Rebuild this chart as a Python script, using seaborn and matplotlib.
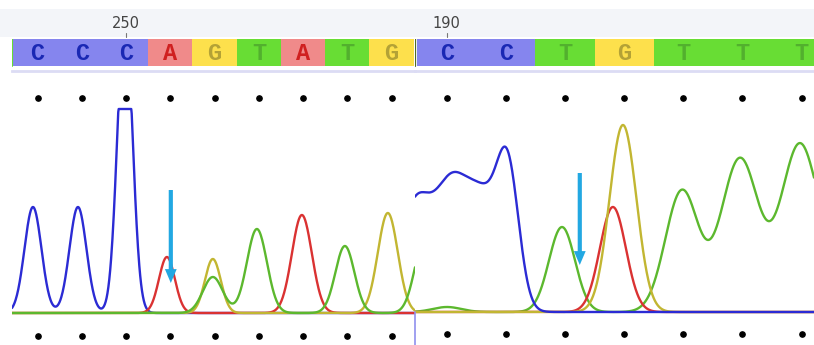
import numpy as np
import pandas as pd
import matplotlib
matplotlib.use("Agg")
import matplotlib.pyplot as plt
from matplotlib.transforms import blended_transform_factory
from matplotlib.patches import Rectangle
import seaborn as sns

# ---------------- data ----------------
left_bases = list("CCCAGTATG")
left_prev_base = "C"          # partly visible call left of the first shown base
right_bases = list("CCTGTTT")
left_label, left_label_idx = "250", 2
right_label, right_label_idx = "190", 0

# peaks: position (base index), height (signal), width (sigma, base units)
left_blue_pos = [-0.106, 0.911, 1.973]
left_blue_h = [1060, 1060, 3000]
left_blue_w = [0.192, 0.192, 0.169]
left_red_pos = [2.922, 5.973]
left_red_h = [560, 980]
left_red_w = [0.18, 0.226]
left_yellow_pos = [3.96, 7.916]
left_yellow_h = [540, 1000]
left_yellow_w = [0.18, 0.226]
left_green_pos = [3.96, 4.956, 6.945, 8.752]
left_green_h = [360, 840, 670, 740]
left_green_w = [0.226, 0.226, 0.215, 0.226]
left_saturation = 2040

right_blue_pos = [-0.536, 0.05, 0.60, 1.04]
right_blue_h = [1050, 1080, 1080, 1230]
right_blue_w = [0.27, 0.27, 0.30, 0.185]
right_red_pos = [2.81]
right_red_h = [1050]
right_red_w = [0.22]
right_yellow_pos = [2.98]
right_yellow_h = [1870]
right_yellow_w = [0.228]
right_green_pos = [0.005, 1.949, 3.977, 4.957, 5.972, 6.99]
right_green_h = [50, 850, 1210, 1530, 1670, 1500]
right_green_w = [0.24, 0.22, 0.28, 0.32, 0.32, 0.32]

# arrows: (base index, top signal, tip signal)
left_arrow = (3.01, 1230, 300)
right_arrow = (2.25, 1390, 470)

# ---------------- styles ----------------
trace_col = {"C": "#2b2bd4", "A": "#da3232", "G": "#c2b632", "T": "#5cb82e"}
bar_col = {"C": "#8585ee", "A": "#f08a8a", "G": "#fde04c", "T": "#68dd34"}
letter_col = {"C": "#1a28b4", "A": "#d02020", "G": "#b4a236", "T": "#52b02e"}
arrow_col = "#22a8e2"

W, H = 814, 345
sns.set_theme(style="white")
plt.rcParams["font.family"] = ["DejaVu Sans"]
fig = plt.figure(figsize=(W / 100, H / 100), dpi=100)
fig.patch.set_facecolor("white")


def rect(x0, y0, x1, y1):
    return [x0 / W, 1 - y1 / H, (x1 - x0) / W, (y1 - y0) / H]


fig.add_artist(Rectangle((0, 1 - 37 / H), 1, 28 / H, transform=fig.transFigure,
                         facecolor="#f3f5f9", edgecolor="none", zorder=-5))

panels = [
    dict(bases=left_bases, prev=left_prev_base, label=left_label,
         label_idx=left_label_idx,
         xlim=(-0.58, 8.53), ylim=(-320, 2410), px=(12, 415),
         peaks={"C": (left_blue_pos, left_blue_h, left_blue_w),
                "A": (left_red_pos, left_red_h, left_red_w),
                "G": (left_yellow_pos, left_yellow_h, left_yellow_w),
                "T": (left_green_pos, left_green_h, left_green_w)},
         order=["C", "A", "G", "T"], sat=left_saturation, arrow=left_arrow,
         dot_bottom=0.033),
    dict(bases=right_bases, prev=None, label=right_label,
         label_idx=right_label_idx,
         xlim=(-0.536, 6.21), ylim=(-330, 2400), px=(415, 814),
         peaks={"C": (right_blue_pos, right_blue_h, right_blue_w),
                "A": (right_red_pos, right_red_h, right_red_w),
                "G": (right_yellow_pos, right_yellow_h, right_yellow_w),
                "T": (right_green_pos, right_green_h, right_green_w)},
         order=["T", "A", "G", "C"], sat=None, arrow=right_arrow,
         dot_bottom=0.040),
]

for i, p in enumerate(panels):
    x0, x1 = p["px"]
    # ---- base-call bar ----
    axb = fig.add_axes(rect(x0, 39, x1, 71))
    axb.set_xlim(*p["xlim"])
    axb.set_ylim(-0.17, 1.0)
    idx = np.arange(len(p["bases"]))
    axb.bar(idx, 1.0, width=1.0, bottom=0,
            color=[bar_col[b] for b in p["bases"]], edgecolor="none")
    if p["prev"] is not None:
        axb.bar([-1], 1.0, width=1.0, bottom=0, color=bar_col[p["prev"]],
                edgecolor="none")
    for j, b in enumerate(p["bases"]):
        axb.text(j, 0.47, b, ha="center", va="center", fontsize=17,
                 family="Liberation Mono", fontweight="bold",
                 color=letter_col[b])
    axb.set_xticks([]); axb.set_yticks([])
    for s in ["top", "left", "right"]:
        axb.spines[s].set_visible(False)
    axb.spines["bottom"].set_color("#dcdcf4")
    axb.spines["bottom"].set_linewidth(2)
    axb.patch.set_alpha(0)
    tr = blended_transform_factory(axb.transData, axb.transAxes)
    axb.text(p["label_idx"], 1.5, p["label"], transform=tr, ha="center",
             va="center", fontsize=10.5, color="#444444")
    axb.plot([p["label_idx"], p["label_idx"]], [1.05, 1.18], transform=tr,
             color="#777777", lw=0.8, clip_on=False)
    if i == 0:
        axb.plot([p["xlim"][0], p["xlim"][0]], [0, 1], color=bar_col["T"],
                 lw=1.5)
    else:
        axb.plot([p["xlim"][0], p["xlim"][0]], [0, 1], color="#4f6a2a", lw=1.6)

    # ---- traces ----
    ax = fig.add_axes(rect(x0, 72, x1, 345))
    xs = np.linspace(p["xlim"][0], p["xlim"][1], 900)
    frames = []
    for b in p["order"]:
        pos, hh, ww = p["peaks"][b]
        sig = np.zeros_like(xs)
        for c, h, w in zip(pos, hh, ww):
            sig += h * np.exp(-0.5 * ((xs - c) / w) ** 2)
        if p["sat"] is not None:
            sig = np.minimum(sig, p["sat"])
        frames.append(pd.DataFrame({"pos": xs, "signal": sig, "base": b}))
    df = pd.concat(frames, ignore_index=True)
    sns.lineplot(data=df, x="pos", y="signal", hue="base", hue_order=p["order"],
                 palette=trace_col, estimator=None, sort=False, legend=False,
                 lw=1.7, ax=ax)
    ax.set_xlim(*p["xlim"])
    ax.set_ylim(*p["ylim"])
    ax.set_xlabel(""); ax.set_ylabel("")
    ax.set_xticks([]); ax.set_yticks([])
    for s in ax.spines.values():
        s.set_visible(False)
    ax.patch.set_alpha(0)

    trx = blended_transform_factory(ax.transData, ax.transAxes)
    ax.plot(idx, np.full(len(idx), 0.906), "o", color="black", ms=3.8,
            transform=trx, clip_on=False)
    ax.plot(idx, np.full(len(idx), p["dot_bottom"]), "o", color="black",
            ms=3.8, transform=trx, clip_on=False)

    ax_x, top, tip = p["arrow"]
    ax.annotate("", xy=(ax_x, tip), xytext=(ax_x, top),
                arrowprops=dict(arrowstyle="simple,head_length=1.0,head_width=0.85,tail_width=0.3",
                                mutation_scale=10, facecolor=arrow_col,
                                edgecolor=arrow_col, lw=0, shrinkA=0, shrinkB=0),
                zorder=10)
    if i == 1:
        ax.plot([p["xlim"][0], p["xlim"][0]], [p["ylim"][0], 0], color="#9090ee",
                lw=1.2, clip_on=False)

fig.savefig("out.png", dpi=100)
